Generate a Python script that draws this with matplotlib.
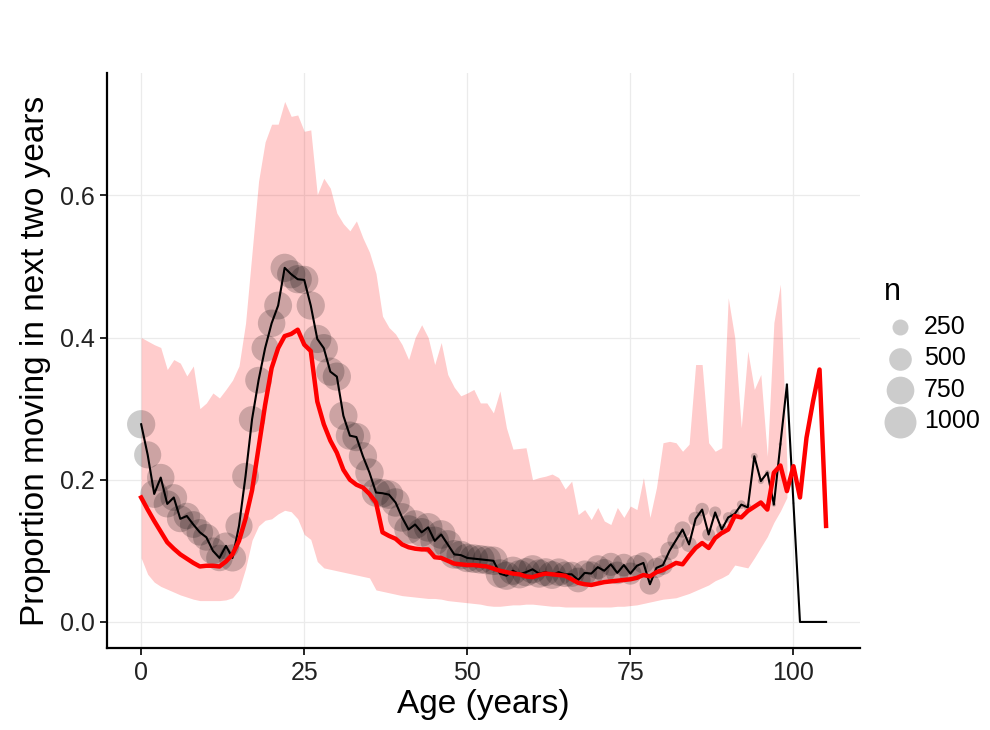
import matplotlib
matplotlib.use('Agg')
import matplotlib.pyplot as plt
import numpy as np

plt.rcParams['font.family'] = ['Liberation Sans', 'DejaVu Sans']

# age 0..105
ages = list(range(0, 106))

# observed proportion moving (black line)
observed = [
    0.278, 0.235, 0.180, 0.203, 0.166, 0.175, 0.145, 0.149, 0.137, 0.126,
    0.119, 0.100, 0.090, 0.107, 0.090, 0.135, 0.205, 0.285, 0.340, 0.385,
    0.420, 0.445, 0.498, 0.489, 0.482, 0.481, 0.445, 0.398, 0.385, 0.352,
    0.345, 0.290, 0.262, 0.260, 0.233, 0.210, 0.182, 0.181, 0.179, 0.168,
    0.147, 0.130, 0.137, 0.126, 0.133, 0.114, 0.123, 0.109, 0.095, 0.094,
    0.090, 0.089, 0.088, 0.087, 0.086, 0.068, 0.065, 0.072, 0.067, 0.070,
    0.074, 0.068, 0.070, 0.066, 0.070, 0.067, 0.067, 0.059, 0.069, 0.068,
    0.077, 0.072, 0.081, 0.069, 0.080, 0.068, 0.079, 0.083, 0.053, 0.076,
    0.080, 0.100, 0.115, 0.130, 0.109, 0.145, 0.158, 0.123, 0.154, 0.130,
    0.147, 0.152, 0.165, 0.161, 0.233, 0.198, 0.210, 0.165, 0.250, 0.334,
    0.167, 0.0, 0.0, 0.0, 0.0, 0.0,
]

# number of people at each age (circle size)
n_people = [
    780, 720, 760, 740, 720, 700, 700, 690, 700, 690,
    700, 700, 690, 700, 720, 720, 700, 680, 700, 720,
    740, 760, 780, 780, 780, 780, 780, 780, 780, 780,
    780, 780, 780, 780, 780, 790, 790, 790, 790, 790,
    800, 800, 800, 800, 800, 800, 800, 800, 800, 800,
    800, 800, 800, 800, 800, 800, 780, 780, 780, 780,
    780, 780, 760, 760, 740, 640, 620, 600, 600, 580,
    560, 540, 520, 500, 500, 480, 460, 440, 420, 400,
    380, 330, 300, 260, 230, 200, 180, 160, 140, 120,
    110, 90, 75, 60, 45, 35, 25, 18, 12, 8,
    5, 3, 2, 2, 1, 1,
]

# model prediction (red line)
predicted = [
    0.175, 0.158, 0.142, 0.127, 0.112, 0.103, 0.095, 0.089, 0.083, 0.078,
    0.079, 0.079, 0.078, 0.085, 0.095, 0.114, 0.145, 0.185, 0.245, 0.305,
    0.357, 0.385, 0.402, 0.405, 0.411, 0.390, 0.381, 0.310, 0.278, 0.255,
    0.238, 0.214, 0.200, 0.193, 0.189, 0.180, 0.168, 0.126, 0.121, 0.117,
    0.109, 0.105, 0.103, 0.102, 0.102, 0.091, 0.090, 0.086, 0.082, 0.081,
    0.080, 0.080, 0.079, 0.078, 0.075, 0.072, 0.070, 0.068, 0.067, 0.064,
    0.063, 0.066, 0.068, 0.067, 0.066, 0.065, 0.060, 0.055, 0.053, 0.052,
    0.054, 0.056, 0.057, 0.058, 0.059, 0.060, 0.062, 0.066, 0.064, 0.070,
    0.073, 0.078, 0.083, 0.081, 0.093, 0.104, 0.111, 0.104, 0.118, 0.125,
    0.130, 0.149, 0.147, 0.156, 0.162, 0.168, 0.158, 0.210, 0.220, 0.184,
    0.219, 0.175, 0.259, 0.310, 0.355, 0.135,
]

# interval band, ages 0..99
band_ages = list(range(0, 100))
band_upper = [
    0.400, 0.395, 0.390, 0.386, 0.355, 0.369, 0.364, 0.346, 0.360, 0.300,
    0.308, 0.322, 0.315, 0.327, 0.340, 0.360, 0.420, 0.520, 0.620, 0.675,
    0.700, 0.700, 0.732, 0.711, 0.713, 0.690, 0.692, 0.601, 0.624, 0.610,
    0.575, 0.560, 0.550, 0.564, 0.540, 0.520, 0.490, 0.430, 0.414, 0.405,
    0.390, 0.369, 0.400, 0.418, 0.400, 0.362, 0.393, 0.348, 0.330, 0.318,
    0.322, 0.327, 0.308, 0.308, 0.294, 0.325, 0.273, 0.243, 0.244, 0.245,
    0.200, 0.203, 0.205, 0.208, 0.203, 0.187, 0.198, 0.151, 0.158, 0.144,
    0.161, 0.142, 0.137, 0.161, 0.147, 0.163, 0.158, 0.203, 0.147, 0.189,
    0.252, 0.254, 0.252, 0.240, 0.250, 0.362, 0.362, 0.252, 0.240, 0.245,
    0.456, 0.400, 0.273, 0.381, 0.327, 0.348, 0.233, 0.421, 0.475, 0.220,
]
band_lower = [
    0.090, 0.067, 0.056, 0.050, 0.046, 0.042, 0.038, 0.035, 0.032, 0.030,
    0.030, 0.030, 0.030, 0.031, 0.034, 0.045, 0.075, 0.115, 0.135, 0.143,
    0.145, 0.152, 0.157, 0.155, 0.145, 0.123, 0.116, 0.085, 0.076, 0.074,
    0.072, 0.070, 0.068, 0.066, 0.064, 0.062, 0.045, 0.043, 0.041, 0.039,
    0.037, 0.036, 0.035, 0.034, 0.033, 0.033, 0.032, 0.030, 0.029, 0.028,
    0.027, 0.026, 0.025, 0.023, 0.022, 0.022, 0.023, 0.024, 0.024, 0.025,
    0.025, 0.024, 0.023, 0.022, 0.022, 0.021, 0.021, 0.021, 0.021, 0.021,
    0.021, 0.021, 0.021, 0.022, 0.022, 0.023, 0.024, 0.026, 0.028, 0.030,
    0.032, 0.033, 0.034, 0.037, 0.040, 0.044, 0.048, 0.052, 0.058, 0.062,
    0.067, 0.080, 0.078, 0.076, 0.090, 0.105, 0.120, 0.140, 0.156, 0.175,
]

legend_n = [250, 500, 750, 1000]

size_per_n = 0.53  # marker area (pt^2) per person

fig = plt.figure(figsize=(9.9, 7.3), dpi=100)
ax = fig.add_axes([0.108, 0.112, 0.761, 0.788])

ax.fill_between(band_ages, band_lower, band_upper, color='red', alpha=0.2,
                linewidth=0, zorder=1)
ax.scatter(ages, observed, s=np.array(n_people) * size_per_n, color='black',
           alpha=0.2, linewidths=0, zorder=2)
ax.plot(ages, observed, color='black', linewidth=1.5, zorder=3)
ax.plot(ages, predicted, color='red', linewidth=3.2, zorder=4)

ax.set_xlim(-5.25, 110.25)
ax.set_ylim(-0.037, 0.772)
ax.set_xticks([0, 25, 50, 75, 100])
ax.set_yticks([0.0, 0.2, 0.4, 0.6])
ax.set_yticklabels(['0.0', '0.2', '0.4', '0.6'])
ax.grid(color='#ebebeb', linewidth=0.9)
ax.set_axisbelow(True)

for side in ['top', 'right']:
    ax.spines[side].set_visible(False)
for side in ['left', 'bottom']:
    ax.spines[side].set_linewidth(1.6)
    ax.spines[side].set_color('black')
ax.tick_params(axis='both', length=5, width=1.2, labelsize=18,
               colors='black', labelcolor='#222222', pad=4)

ax.set_xlabel('Age (years)', fontsize=24, labelpad=3)
ax.set_ylabel('Proportion moving in next two years', fontsize=24, labelpad=6)

# size legend
handles = [ax.scatter([], [], s=v * size_per_n, color='black', alpha=0.2,
                      linewidths=0) for v in legend_n]
leg = fig.legend(handles, [str(v) for v in legend_n], title='n',
                 loc='upper left', bbox_to_anchor=(0.888, 0.627),
                 frameon=False, fontsize=18, title_fontsize=22,
                 handlelength=1.3, handletextpad=0.3, labelspacing=0.3,
                 borderpad=0.2, borderaxespad=0.0)
leg._legend_box.align = 'left'

plt.savefig('out.png', dpi=100)
